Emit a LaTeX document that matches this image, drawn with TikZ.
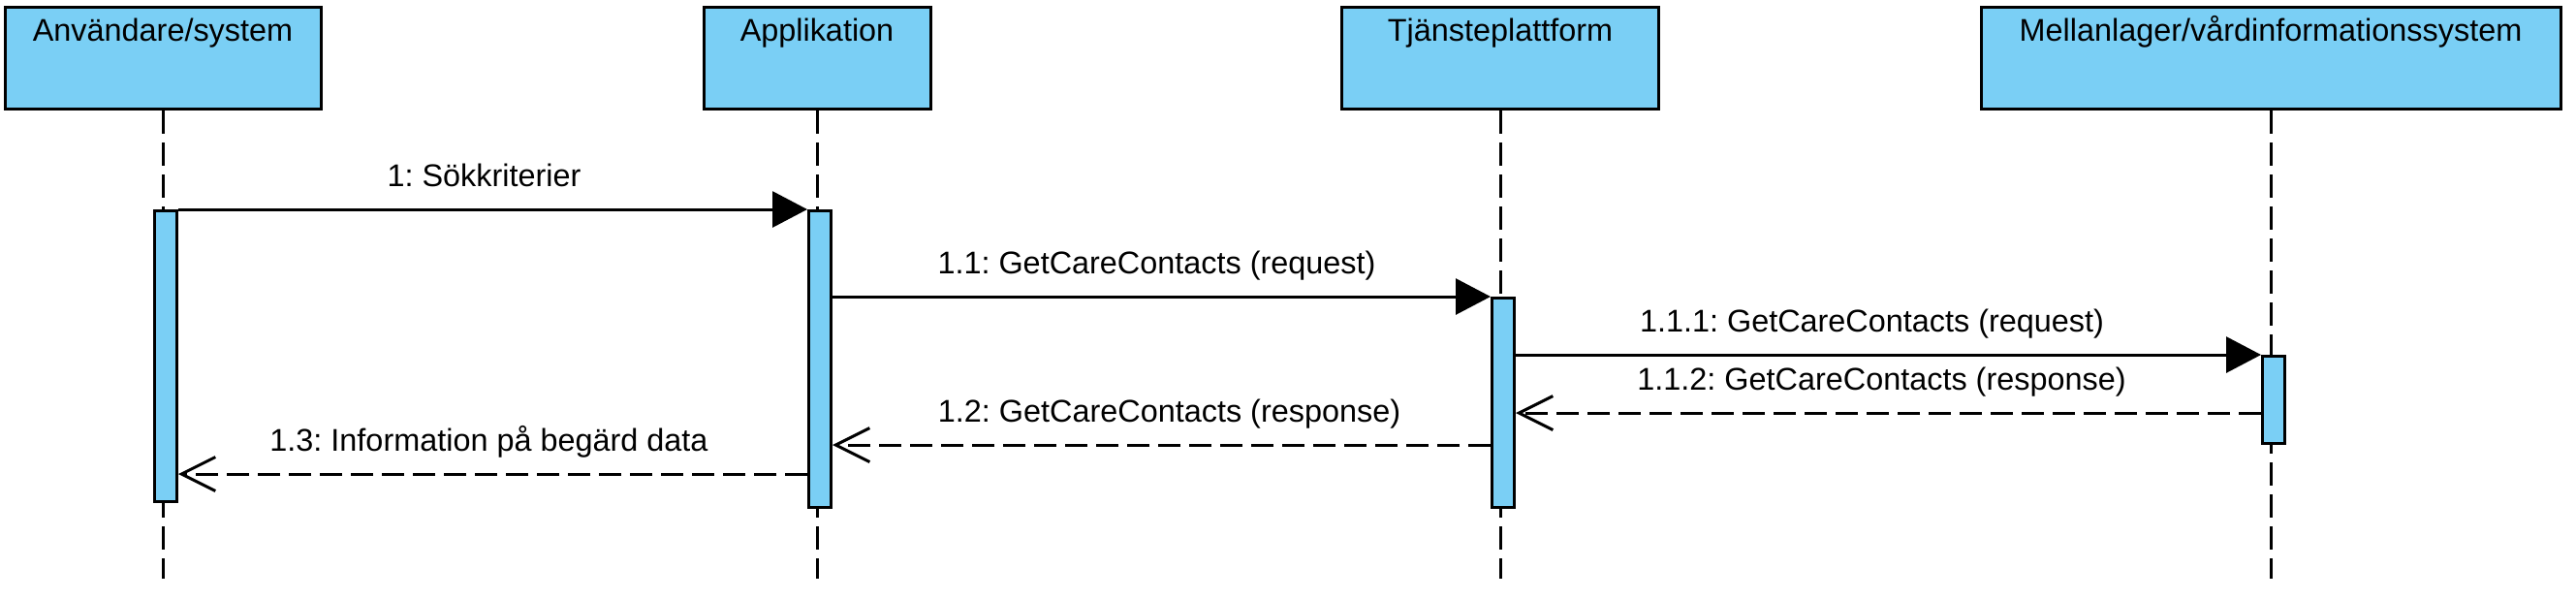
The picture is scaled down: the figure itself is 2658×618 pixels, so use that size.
\documentclass[tikz,border=0pt]{standalone}
\usepackage{fontspec}
\setmainfont{Liberation Sans}
\usetikzlibrary{arrows.meta}
\definecolor{umlblue}{RGB}{122,207,245}
\begin{document}
\frenchspacing
\begin{tikzpicture}[x=.5pt,y=-.5pt,font=\fontsize{16.2pt}{19pt}\selectfont,
    actor/.style={draw,line width=1.5pt,fill=umlblue,inner xsep=0pt,inner ysep=0pt,
      text height=17.5pt,text depth=35pt,anchor=north},
    bar/.style={draw,line width=1.5pt,fill=umlblue,minimum width=11.5pt,inner sep=0pt,anchor=north,xshift=1.5pt},
    lifeline/.style={line width=1.5pt,dash pattern=on 11.75pt off 4.75pt},
    call/.style={line width=1.5pt,-{Triangle[length=18pt,width=18.5pt]}},
    reply/.style={line width=1.5pt,dash pattern=on 11.5pt off 4.5pt,-{Straight Barb[length=17.5pt,width=17.5pt]}},
    msg/.style={midway,anchor=base,yshift=12pt}]
    \def\xU{168} \def\xA{843} \def\xT{1548} \def\xM{2343}
    \def\ybot{597}
    \fill[white] (0,0) rectangle (2658,618);
    \useasboundingbox (0,0) rectangle (2658,618);
    % lifeline heads
    \node[actor,minimum width=163pt] (user) at (\xU,6) {Användare/system};
    \node[actor,minimum width=117pt] (app) at (\xA,6) {Applikation};
    \node[actor,minimum width=163.5pt] (tp) at (\xT,6) {Tjänsteplattform};
    \node[actor,minimum width=299pt] (mv) at (\xM,6) {Mellanlager/vårdinformationssystem};
    \coordinate (end) at (0,\ybot);
    \foreach \n in {user,app,tp,mv}
    \draw[lifeline] (\n.south) -- (\n.south |- end);
    % activations
    \node[bar,minimum height=150pt] (act1) at (\xU,216) {};
    \node[bar,minimum height=153pt] (act2) at (\xA,216) {};
    \node[bar,minimum height=108pt] (act3) at (\xT,306) {};
    \node[bar,minimum height=45pt] (act4) at (\xM,366) {};
    % messages
    \draw[call] (act1.north east) -- (act2.north west) node[msg,xshift=-4.5pt]{1: Sökkriterier};
    \draw[call] (act2.east |- act3.north) -- (act3.north west) node[msg,xshift=-2.5pt]{1.1: GetCareContacts (request)};
    \draw[call] (act3.east |- act4.north) -- (act4.north west) node[msg,xshift=-8.5pt]{1.1.1: GetCareContacts (request)};
    \coordinate (r112) at ([yshift=-30pt]act4.north west);
    \draw[reply] (r112) -- (act3.east |- r112) node[msg,xshift=-3.5pt]{1.1.2: GetCareContacts (response)};
    \draw[reply] (act3.west |- act4.south) -- (act2.east |- act4.south) node[msg,xshift=4pt]{1.2: GetCareContacts (response)};
    \coordinate (r13) at ([yshift=-15pt]act2.west |- act4.south);
    \draw[reply] (r13) -- (act1.east |- r13) node[msg,xshift=-2pt]{1.3: Information på begärd data};
\end{tikzpicture}
\end{document}
